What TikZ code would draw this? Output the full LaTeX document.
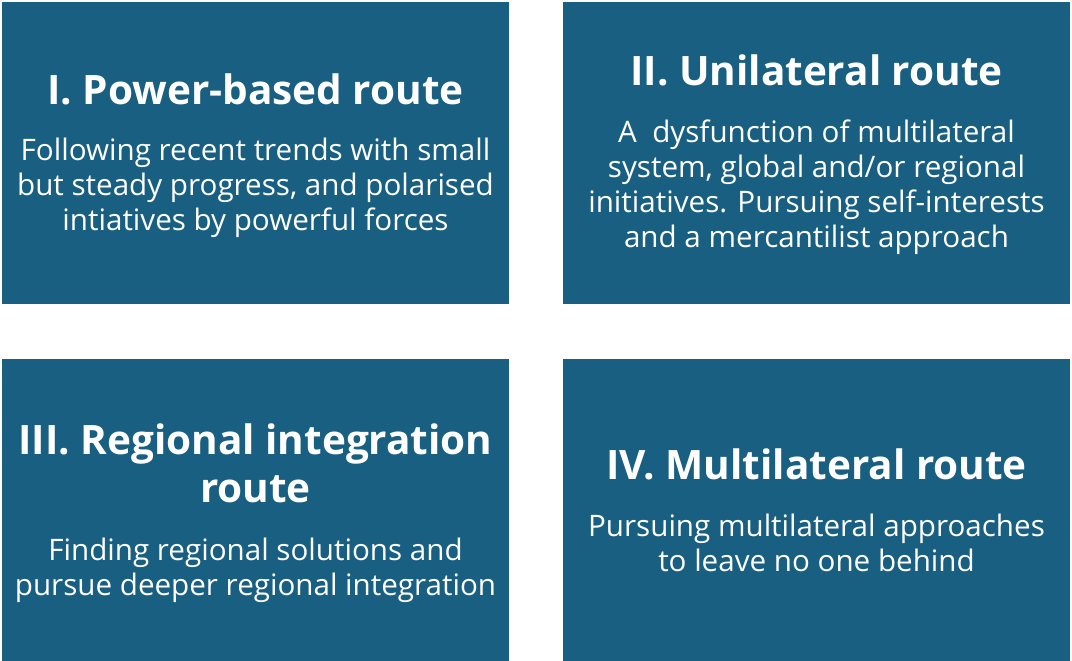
\documentclass[tikz,border=0pt]{standalone}
\usepackage{fontspec}
\setmainfont{Open Sans}
\usetikzlibrary{positioning}
\definecolor{routeblue}{RGB}{24,95,129}

\begin{document}
\begin{tikzpicture}[x=1pt,y=-1pt,
    routebox/.style={fill=routeblue,minimum width=507pt,minimum height=302pt,inner sep=0pt},
    routetitle/.style={text=white,font=\bfseries\fontsize{40.5}{48}\selectfont,align=center,anchor=base},
    routetext/.style={text=white,font=\fontsize{29.6}{35}\selectfont,align=center,anchor=base}]
  \useasboundingbox (0,0) rectangle (1072,661);
  % the four boxes
  \node[routebox] (r1) at (255.5,153) {};
  \node[routebox] (r2) at (816.5,153) {};
  \node[routebox] (r3) at (255.5,510) {};
  \node[routebox] (r4) at (816.5,510) {};
  % I (base = last line)
  \node[routetitle] (t1) at (255.5,104) {I. Power-based route};
  \node[routetext] (d1) at (255.5,230) {Following recent trends with small\\but steady progress, and polarised\\intiatives by powerful forces};
  % II
  \node[routetitle] (t2) at (816.5,86) {II. Unilateral route};
  \node[routetext] (d2) at (816.5,247) {A~ dysfunction of multilateral\\system, global and/or regional\\initiatives. Pursuing self-interests\\and a mercantilist approach};
  % III
  \node[routetitle] (t3) at (255.5,502) {III. Regional integration\\route};
  \node[routetext] (d3) at (255.5,595) {Finding regional solutions and\\pursue deeper regional integration};
  % IV
  \node[routetitle] (t4) at (816.5,479) {IV. Multilateral route};
  \node[routetext] (d4) at (816.5,571) {Pursuing multilateral approaches\\to leave no one behind};
\end{tikzpicture}
\end{document}
